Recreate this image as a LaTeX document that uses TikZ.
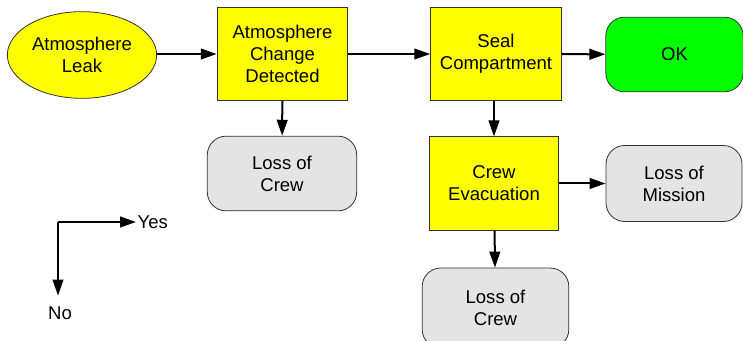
\documentclass[tikz,border=0pt]{standalone}
\usepackage{fontspec}
\setmainfont{Liberation Sans}
\usepackage{xcolor}
\usetikzlibrary{shapes.geometric, arrows.meta, positioning}

\definecolor{boxyellow}{HTML}{FFFF00}
\definecolor{okgreen}{HTML}{00FF00}
\definecolor{endgray}{HTML}{E4E4E4}

\tikzset{
  base/.style={draw=black!80, line width=0.6pt, align=center, font=\fontsize{13.9}{16.5}\selectfont, inner sep=0pt},
  eventbox/.style={base, ellipse, fill=boxyellow, minimum width=112pt, minimum height=65pt},
  stepbox/.style={base, rectangle, fill=boxyellow, minimum width=98pt, minimum height=70pt},
  endbox/.style={base, rectangle, rounded corners=14pt, fill=endgray},
  goodbox/.style={base, rectangle, rounded corners=14pt, fill=okgreen},
  flow/.style={line width=1.5pt, -{Triangle[length=12pt,width=8pt]}}
}

\begin{document}
\begin{tikzpicture}[x=0.75pt, y=-0.75pt]
\useasboundingbox[fill=white] (0,0) rectangle (743,341);
% Main chain
\node[eventbox] (leak) at (82,55) {Atmosphere\\Leak};
\node[stepbox] (detect) at (282.5,54) {Atmosphere\\Change\\Detected};
\node[stepbox] (seal) at (496,54) {Seal\\Compartment};
\node[goodbox, minimum width=103pt, minimum height=56pt] (ok) at (674.5,54.5) {OK};
% Failure branches
\node[endbox, minimum width=112pt, minimum height=56pt] (crewA) at (282,173.5) {Loss of\\Crew};
\node[stepbox, minimum width=97pt] (evac) at (494,183.5) {Crew\\Evacuation};
\node[endbox, minimum width=102pt, minimum height=57pt] (mission) at (674,183.5) {Loss of\\Mission};
\node[endbox, minimum width=110pt, minimum height=60pt] (crewB) at (495.5,308) {Loss of\\Crew};
% Arrows
\draw[flow] (leak.east |- detect.west) -- (detect);
\draw[flow] (detect) -- (seal);
\draw[flow] (seal) -- (ok);
\draw[flow] (detect) -- (crewA);
\draw[flow] (seal.south -| evac.north) -- (evac);
\draw[flow] (evac) -- (mission);
\draw[flow] (evac) -- (crewB);
% Legend
\coordinate (corner) at (58,222);
\node[font=\fontsize{13.9}{16.5}\selectfont, anchor=west, inner sep=1pt] (yes) at (136,222) {Yes};
\node[font=\fontsize{13.9}{16.5}\selectfont, inner sep=1pt] (no) at (60,313) {No};
\draw[flow] (corner) -- (yes.west);
\draw[flow] (corner) -- ([yshift=7pt]no.north -| corner);
\end{tikzpicture}
\end{document}
